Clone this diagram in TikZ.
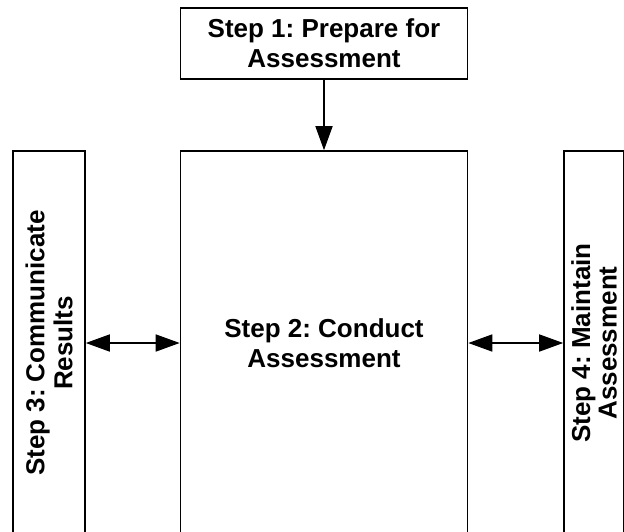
\documentclass[tikz,border=0pt]{standalone}
\usepackage{fontspec}
\setmainfont{Liberation Sans}
\usetikzlibrary{arrows.meta}
\frenchspacing
\begin{document}
\begin{tikzpicture}[x=1pt,y=-1pt,
  stepbox/.style={draw=black, line width=1.6pt, fill=white, inner sep=0pt,
    align=center, font=\bfseries\fontsize{26}{30}\selectfont},
  sidebox/.style={stepbox, rotate=90, minimum width=384pt,
    font=\bfseries\fontsize{26}{28}\selectfont},
  link/.style={line width=1.6pt, draw=black},
  tip/.style={-{Triangle[length=24pt,width=17pt]}},
  both/.style={{Triangle[length=24pt,width=17pt]}-{Triangle[length=24pt,width=17pt]}}]
  % page frame
  \useasboundingbox (0,0) rectangle (624,531);
  \clip (0,0) rectangle (624,531);

  % top step
  \node[stepbox, minimum width=287pt, minimum height=71pt] (s1) at (324,43.5)
    {Step 1: Prepare for\\Assessment};

  % central step, its lower edge runs past the page
  \node[stepbox, minimum width=287pt, minimum height=384pt] (s2) at (324,343)
    {Step 2: Conduct\\Assessment};

  % side steps, set on their side
  \node[sidebox, minimum height=72pt] (s3) at (49,343)
    {Step 3: Communicate\\Results};
  \node[sidebox, minimum height=60pt,
    font=\bfseries\fontsize{26}{26.5}\selectfont] (s4) at (594,343)
    {Step 4: Maintain\\Assessment};

  % connectors
  \draw[link, tip] (s1) -- (s2);
  \draw[link, both] (s3) -- (s2);
  \draw[link, both] (s2) -- (s4);
\end{tikzpicture}
\end{document}
